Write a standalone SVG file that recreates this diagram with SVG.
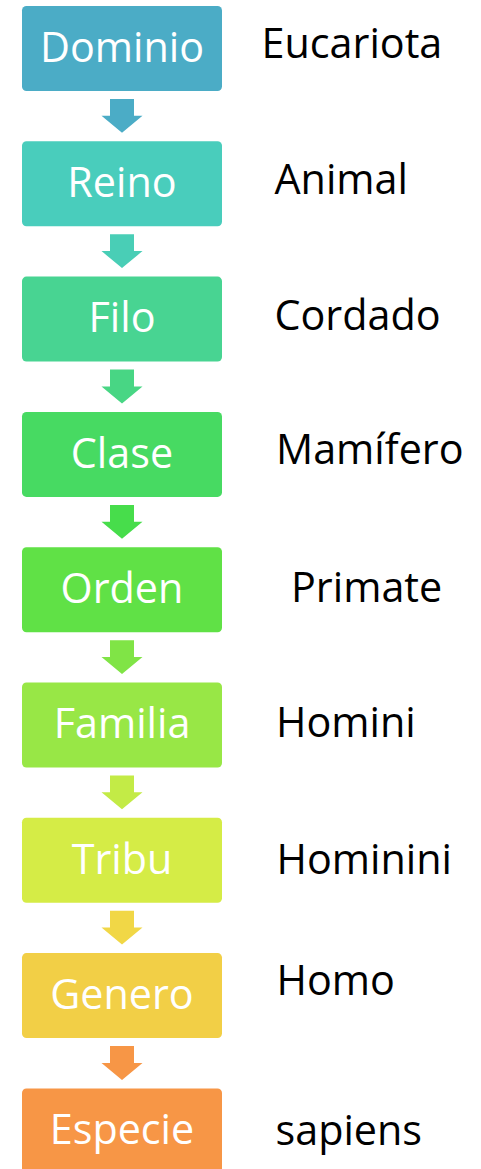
<svg xmlns="http://www.w3.org/2000/svg" width="481" height="1169" viewBox="0 0 481 1169">
<style>
.box{stroke:none}
.bl{font-family:"Open Sans","Liberation Sans",sans-serif;font-size:41.3px;fill:#ffffff;text-anchor:middle}
.rl{font-family:"Open Sans","Liberation Sans",sans-serif;font-size:41.3px;fill:#000000}
</style>
<defs>
<path id="arr" d="M-12,0 H12 V16.8 H20.5 L0,33.8 L-20.5,16.8 H-12 Z"/>
</defs>
<rect width="481" height="1169" fill="#ffffff"/>
<g id="connectors">
<use href="#arr" x="122" y="99" fill="#4BACC6"/>
<use href="#arr" x="122" y="234.3" fill="#49CEB6"/>
<use href="#arr" x="122" y="369.6" fill="#48D684"/>
<use href="#arr" x="122" y="504.9" fill="#47DD4B"/>
<use href="#arr" x="122" y="640.2" fill="#80E446"/>
<use href="#arr" x="122" y="775.5" fill="#C3EB46"/>
<use href="#arr" x="122" y="910.8" fill="#F1D746"/>
<use href="#arr" x="122" y="1046.1" fill="#F79646"/>
</g>
<g id="dominio"><rect class="box" x="22" y="6" width="200" height="85" rx="4.5" fill="#4BACC6"/><text class="bl" x="122" y="61.8">Dominio</text><text class="rl" x="261.5" y="58">Eucariota</text></g>
<g id="reino"><rect class="box" x="22" y="141.3" width="200" height="85" rx="4.5" fill="#49CDBC"/><text class="bl" x="122" y="197.1">Reino</text><text class="rl" x="274.5" y="194.3">Animal</text></g>
<g id="filo"><rect class="box" x="22" y="276.6" width="200" height="85" rx="4.5" fill="#48D492"/><text class="bl" x="122" y="332.4">Filo</text><text class="rl" x="274.5" y="330">Cordado</text></g>
<g id="clase"><rect class="box" x="22" y="411.9" width="200" height="85" rx="4.5" fill="#47DA62"/><text class="bl" x="122" y="467.7">Clase</text><text class="rl" x="276" y="464.3">Mamífero</text></g>
<g id="orden"><rect class="box" x="22" y="547.2" width="200" height="85" rx="4.5" fill="#60E146"/><text class="bl" x="122" y="603">Orden</text><text class="rl" x="291" y="602.3">Primate</text></g>
<g id="familia"><rect class="box" x="22" y="682.5" width="200" height="85" rx="4.5" fill="#98E746"/><text class="bl" x="122" y="738.3">Familia</text><text class="rl" x="276" y="737">Homini</text></g>
<g id="tribu"><rect class="box" x="22" y="817.8" width="200" height="85" rx="4.5" fill="#D5EC46"/><text class="bl" x="122" y="873.6">Tribu</text><text class="rl" x="276.5" y="874">Hominini</text></g>
<g id="genero"><rect class="box" x="22" y="953.1" width="200" height="85" rx="4.5" fill="#F2CF46"/><text class="bl" x="122" y="1008.9">Genero</text><text class="rl" x="276.5" y="995">Homo</text></g>
<g id="especie"><rect class="box" x="22" y="1088.4" width="200" height="85" rx="4.5" fill="#F79646"/><text class="bl" x="122" y="1144.2">Especie</text><text class="rl" x="275.5" y="1145">sapiens</text></g>
</svg>
